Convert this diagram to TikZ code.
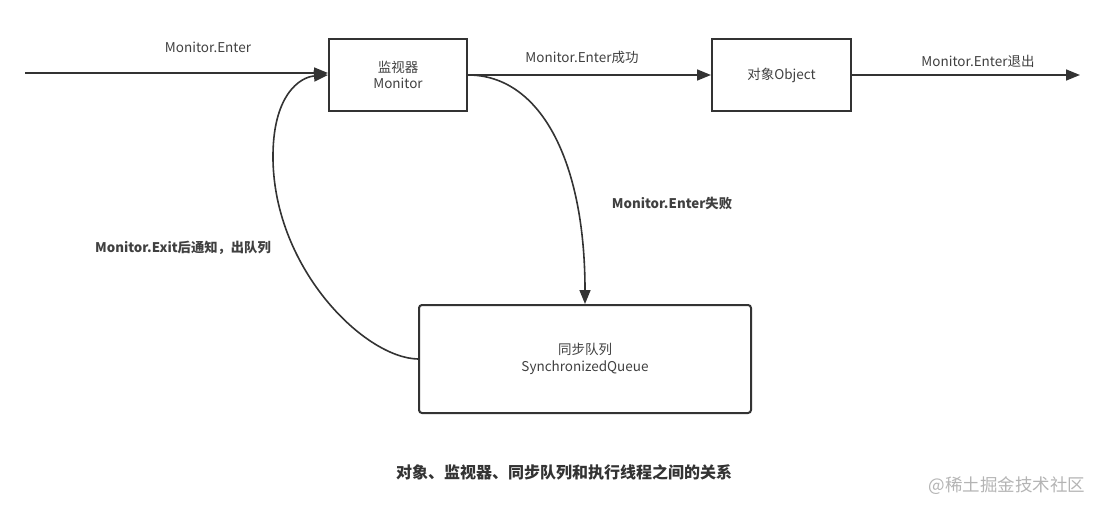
\documentclass[tikz,border=0pt]{standalone}
\usepackage{fontspec}
\setmainfont{Noto Sans CJK SC}
\usetikzlibrary{arrows.meta}
\definecolor{ink}{HTML}{333333}
\definecolor{txt}{HTML}{404040}
\definecolor{wm}{HTML}{B4B4B4}
\begin{document}
\begin{tikzpicture}[x=1pt,y=-1pt,
  box/.style={draw=ink,line width=2pt,text=txt,align=center,inner sep=0pt,font=\fontsize{13.5}{16.5}\selectfont},
  arr/.style={draw=ink,line width=1.6pt,-{Triangle[length=14pt,width=11pt]}},
  lbl/.style={text=txt,font=\fontsize{13.5}{16}\selectfont,inner sep=0pt},
  blbl/.style={text=txt,font=\fontsize{13.3}{16}\selectfont\bfseries,inner sep=0pt}]
\useasboundingbox (0,0) rectangle (1105,511);
\node[box,minimum width=138pt,minimum height=72pt] (mon) at (398,75) {监视器\\Monitor};
\node[box,minimum width=139pt,minimum height=72pt] (obj) at (781.5,75) {对象Object};
\node[box,rounded corners=3pt,minimum width=332pt,minimum height=108pt] (que) at (585,359) {同步队列\\SynchronizedQueue};
\coordinate (src) at (25,73);
\coordinate (dst) at (1080,75);
\draw[arr] (src) -- (mon.west |- src);
\draw[arr] (mon.east) -- (obj.west);
\draw[arr] (obj.east) -- (dst);
\draw[arr] (mon.east) .. controls (540,75) and (585,160) .. (que.north);
\draw[arr] (que.west) .. controls (365,358) and (275,270) .. (273,160) .. controls (272,95) and (300,77) .. (mon.west);
\node[lbl] (l1) at (208,47) {Monitor.Enter};
\node[lbl] (l2) at (582,57) {Monitor.Enter成功};
\node[lbl] (l3) at (978,61) {Monitor.Enter退出};
\node[blbl] (l4) at (672,203) {Monitor.Enter失败};
\node[blbl] (l5) at (183,248) {Monitor.Exit后通知，出队列};
\node[text=ink,font=\fontsize{16}{19}\selectfont\bfseries,inner sep=0pt] (cap) at (564,472) {对象、监视器、同步队列和执行线程之间的关系};
\node[text=wm,font=\fontsize{17.5}{20}\selectfont,inner sep=0pt] (wmk) at (1007,486) {@稀土掘金技术社区};
\end{tikzpicture}
\end{document}
